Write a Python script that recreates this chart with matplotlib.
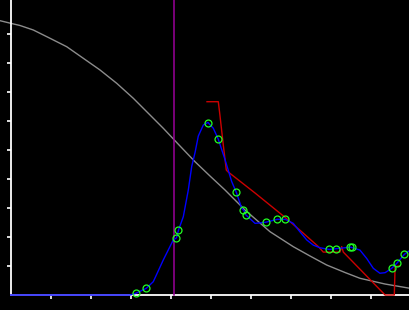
import matplotlib
matplotlib.use("Agg")
import matplotlib.pyplot as plt

# Gray decreasing reference curve
gray_x = [-0.2675, 0.0, 0.2325, 0.565, 0.9825, 1.40, 1.815, 2.2325, 2.65, 3.065, 3.4825,
          3.815, 4.2325, 4.6075, 4.9825, 5.3575, 5.8575, 6.4825, 7.065, 7.4825, 7.90,
          8.3575, 8.7325, 9.3575, 9.9825]
gray_y = [9.459, 9.369, 9.293, 9.138, 8.852, 8.562, 8.162, 7.759, 7.30, 6.783, 6.207,
          5.748, 5.138, 4.597, 4.103, 3.621, 2.931, 2.183, 1.666, 1.345, 1.034,
          0.776, 0.576, 0.379, 0.231]

# Blue smooth curve
blue_x = [0.0, 2.98, 3.13, 3.39, 3.565, 3.815, 4.065, 4.145, 4.195, 4.315, 4.44, 4.525, 4.61,
          4.69, 4.815, 4.93, 5.065, 5.19, 5.36, 5.525, 5.64, 5.775, 5.83, 5.88, 6.11, 6.38,
          6.525, 6.665, 6.865, 7.065, 7.23, 7.40, 7.565, 7.73, 7.965, 8.15, 8.50, 8.73, 8.90,
          9.065, 9.23, 9.36, 9.525, 9.65, 9.84, 9.99]
blue_y = [0.0, 0.0, 0.06, 0.23, 0.46, 1.21, 1.90, 1.97, 2.24, 2.70, 3.62, 4.43, 4.92,
          5.48, 5.86, 5.95, 5.75, 5.37, 4.66, 3.91, 3.54, 2.99, 2.91, 2.76, 2.47, 2.51,
          2.56, 2.61, 2.61, 2.47, 2.18, 1.90, 1.72, 1.63, 1.57, 1.60, 1.65, 1.55, 1.26,
          0.92, 0.75, 0.77, 0.92, 1.09, 1.40, 1.55]

# Green marker points
mark_x = [3.13, 3.39, 4.145, 4.195, 4.94, 5.19, 5.64, 5.82, 5.88, 6.39, 6.665, 6.865,
          7.965, 8.145, 8.475, 8.525, 9.53, 9.65, 9.84]
mark_y = [0.06, 0.23, 1.955, 2.23, 5.93, 5.37, 3.54, 2.92, 2.75, 2.51, 2.61, 2.61,
          1.58, 1.60, 1.645, 1.645, 0.92, 1.09, 1.40]

# Red step-like line
red_x = [4.9075, 5.19, 5.23, 5.315, 5.39, 5.43, 6.115, 6.865, 7.275, 7.69, 7.815, 8.23,
         8.275, 8.315, 9.36, 9.59, 9.61, 9.72]
red_y = [6.665, 6.665, 6.21, 5.17, 4.31, 4.25, 3.51, 2.67, 2.18, 1.67, 1.48, 1.48,
         1.67, 1.48, 0.0, 0.0, 0.98, 1.0]

# Vertical marker line
vline_x = 4.09

xlim = (-0.2675, 9.9825)
ylim = (-0.517, 10.172)
xticks = [1, 2, 3, 4, 5, 6, 7, 8, 9]
yticks = [1, 2, 3, 4, 5, 6, 7, 8, 9]

fig = plt.figure(figsize=(4.1, 3.1), dpi=100, facecolor="black")
ax = fig.add_axes([0, 0, 1, 1])
ax.set_facecolor("black")
ax.set_xlim(*xlim)
ax.set_ylim(*ylim)

ax.plot(gray_x, gray_y, color="#8c8c8c", lw=1.0, zorder=2)
ax.plot([vline_x, vline_x], [0, ylim[1]], color="#990099", lw=1.1, zorder=3)
ax.plot(red_x, red_y, color="#cc0000", lw=1.0, zorder=4)
ax.plot(blue_x, blue_y, color="#0000ff", lw=1.0, zorder=5)
ax.plot(mark_x, mark_y, linestyle="none", marker="o", markersize=5,
        markerfacecolor="none", markeredgecolor="#22ff22", markeredgewidth=0.9, zorder=6)

for s in ["top", "right"]:
    ax.spines[s].set_visible(False)
ax.spines["left"].set_position(("data", 0))
ax.spines["bottom"].set_position(("data", 0))
ax.spines["left"].set_bounds(0, ylim[1])
ax.spines["bottom"].set_bounds(0, xlim[1])
for s in ["left", "bottom"]:
    ax.spines[s].set_color("white")
    ax.spines[s].set_linewidth(1.3)
ax.set_xticks(xticks)
ax.set_yticks(yticks)
ax.set_xticklabels([])
ax.set_yticklabels([])
ax.tick_params(colors="white", direction="out", length=3, width=1.2)

fig.savefig("out.png", dpi=100, facecolor="black")
